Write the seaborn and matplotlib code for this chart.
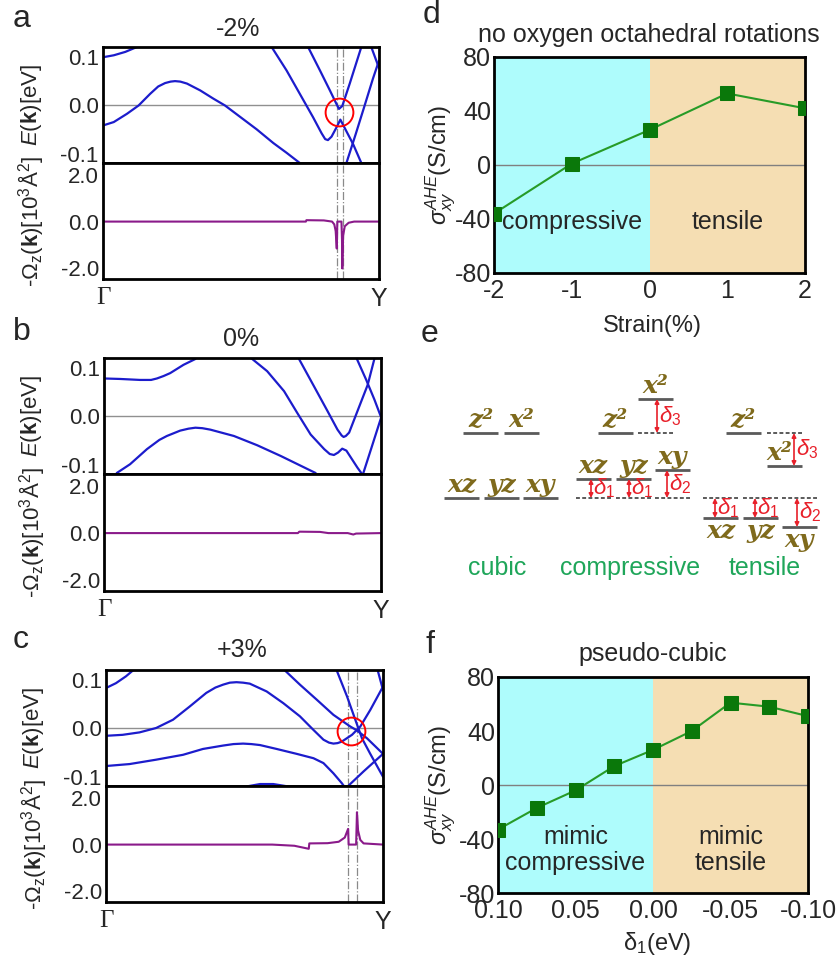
import matplotlib
matplotlib.use("Agg")
import matplotlib.pyplot as plt
import seaborn as sns

# ---------------- data ----------------
# k along Gamma -> Y is normalised to 0..1; energies in eV, Berry curvature in 10^3 A^2

# panel a : -2 %
A_BANDS = [
    ([0.0, 0.039, 0.081, 0.123], [0.099, 0.103, 0.110, 0.120]),
    ([0.0, 0.039, 0.087, 0.129, 0.171, 0.200, 0.225, 0.245, 0.261, 0.280, 0.304, 0.352, 0.400, 0.442,
      0.496, 0.557, 0.617, 0.665, 0.713],
     [-0.041, -0.034, -0.017, 0.0, 0.024, 0.039, 0.046, 0.049, 0.050, 0.049, 0.045, 0.031, 0.014, 0.0,
      -0.023, -0.049, -0.077, -0.097, -0.118]),
    ([0.611, 0.665, 0.713, 0.761, 0.792, 0.805, 0.815, 0.828, 0.846, 0.860, 0.882, 0.906, 0.936],
     [0.120, 0.072, 0.024, -0.024, -0.057, -0.069, -0.071, -0.064, -0.045, -0.029, -0.053, -0.079, -0.118]),
    ([0.743, 0.786, 0.822, 0.846, 0.855, 0.867, 0.894, 0.936],
     [0.120, 0.072, 0.031, 0.003, -0.007, -0.001, 0.045, 0.120]),
    ([0.882, 0.916, 0.948, 0.978, 1.0], [-0.118, -0.058, 0.0, 0.055, 0.092]),
    ([0.972, 1.0], [0.120, 0.077]),
]
A_BERRY_K = [0.0, 0.70, 0.735, 0.737, 0.80, 0.83, 0.838, 0.843, 0.847, 0.849, 0.864, 0.866, 0.867,
             0.870, 0.876, 0.89, 0.91, 1.0]
A_BERRY = [0.0, 0.0, 0.0, 0.06, 0.05, 0.0, -0.12, -0.4, -1.15, 0.0, 0.0, -0.8, -2.0,
           -0.6, -0.2, -0.05, 0.0, 0.0]
A_MARKS = [0.849, 0.868]
A_RING = (0.856, -0.013)

# panel b : 0 %
B_BANDS = [
    ([0.0, 0.058, 0.130, 0.170, 0.191, 0.215, 0.239, 0.287, 0.330],
     [0.078, 0.077, 0.075, 0.075, 0.078, 0.083, 0.089, 0.106, 0.118]),
    ([0.046, 0.094, 0.155, 0.200, 0.227, 0.275, 0.305, 0.330, 0.355, 0.384, 0.469, 0.553, 0.638, 0.710, 0.764],
     [-0.116, -0.098, -0.067, -0.048, -0.040, -0.029, -0.025, -0.023, -0.024, -0.027, -0.040, -0.059,
      -0.081, -0.101, -0.116]),
    ([0.535, 0.589, 0.650, 0.698, 0.746, 0.795, 0.815, 0.830, 0.845, 0.860, 0.875, 0.891, 0.915, 0.934],
     [0.118, 0.093, 0.052, 0.007, -0.037, -0.067, -0.077, -0.079, -0.074, -0.066, -0.070, -0.084, -0.105, -0.120]),
    ([0.704, 0.758, 0.807, 0.843, 0.858, 0.865, 0.873, 0.885, 0.915, 0.952, 0.976],
     [0.118, 0.062, 0.011, -0.027, -0.039, -0.042, -0.040, -0.033, 0.011, 0.065, 0.118]),
    ([0.913, 0.946, 0.976, 1.0], [0.118, 0.076, 0.035, -0.001]),
    ([0.934, 0.964, 1.0], [-0.120, -0.067, -0.003]),
]
B_BERRY_K = [0.0, 0.70, 0.705, 0.78, 0.81, 0.88, 0.90, 0.91, 1.0]
B_BERRY = [0.0, 0.0, 0.06, 0.05, 0.0, 0.0, -0.06, -0.02, 0.0]
B_MARKS = []
B_RING = None

# panel c : +3 %
C_BANDS = [
    ([0.0, 0.036, 0.072, 0.097], [0.083, 0.093, 0.107, 0.119]),
    ([0.0, 0.060, 0.121, 0.181, 0.242, 0.302, 0.362, 0.395, 0.423, 0.447, 0.471, 0.495, 0.519, 0.580,
      0.640, 0.700, 0.749, 0.785, 0.805, 0.821, 0.836, 0.851, 0.888, 0.918, 0.954, 1.0],
     [-0.015, -0.013, -0.008, 0.001, 0.018, 0.045, 0.073, 0.084, 0.090, 0.094, 0.095, 0.094, 0.092, 0.076,
      0.052, 0.025, -0.003, -0.023, -0.029, -0.031, -0.030, -0.027, -0.013, 0.004, 0.038, 0.086]),
    ([0.646, 0.700, 0.761, 0.821, 0.882, 0.906, 0.942, 1.0],
     [0.119, 0.090, 0.059, 0.028, 0.004, -0.004, -0.020, -0.052]),
    ([0.833, 0.870, 0.900, 0.924, 0.954, 1.0], [0.119, 0.066, 0.018, -0.020, -0.052, -0.099]),
    ([0.876, 0.930, 1.0], [-0.117, -0.088, -0.052]),
    ([0.981, 1.0], [0.119, 0.079]),
    ([0.507, 0.556, 0.604, 0.658], [-0.119, -0.114, -0.114, -0.119]),
    ([0.0, 0.085, 0.181, 0.278, 0.350, 0.423, 0.460, 0.495, 0.525, 0.556, 0.616, 0.688, 0.749, 0.785,
      0.821, 0.851, 0.860],
     [-0.077, -0.073, -0.064, -0.054, -0.042, -0.035, -0.032, -0.031, -0.032, -0.034, -0.042, -0.052,
      -0.061, -0.071, -0.092, -0.112, -0.119]),
]
C_BERRY_K = [0.0, 0.60, 0.68, 0.732, 0.734, 0.80, 0.84, 0.862, 0.874, 0.876, 0.903, 0.906, 0.910,
             0.918, 0.93, 1.0]
C_BERRY = [0.0, 0.0, -0.05, -0.18, 0.05, 0.06, 0.12, 0.3, 0.67, 0.0, 0.0, 1.38, 0.6,
           0.2, 0.05, 0.0]
C_MARKS = [0.875, 0.905]
C_RING = (0.886, -0.005)

# panel d : AHC vs strain, no octahedral rotations
STRAIN = [-2, -1, 0, 1, 2]
SIGMA_D = [-36, 1, 26, 53, 42]

# panel f : AHC vs delta_1, pseudo-cubic
DELTA1 = [0.1, 0.075, 0.05, 0.025, 0.0, -0.025, -0.05, -0.075, -0.1]
SIGMA_F = [-33, -17, -4, 14, 26, 40, 61, 58, 51]

# panel e : level scheme (x of left end, level height, reference height, splitting)
E_ORBITALS = ["z²", "x²", "xz", "yz", "xy",
              "z²", "x²", "xz", "yz", "xy",
              "z²", "x²", "xz", "yz", "xy"]
E_LEFT = [463, 504, 444, 484, 523,
          598, 638, 576, 616, 655,
          726, 767, 703, 743, 782]
E_LEVEL = [433, 433, 498, 498, 498,
           433, 399, 479, 479, 470,
           433, 466, 518, 518, 527]
E_REF = [None, None, None, None, None,
         None, 433, 498, 498, 498,
         None, 433, 498, 498, 498]
E_SPLIT = [None, None, None, None, None,
           None, "3", "1", "1", "2",
           None, "3", "1", "1", "2"]
E_ARROW_X = [None, None, None, None, None,
             None, 657, 591, 629, 667,
             None, 794, 715, 755, 797]
E_COLUMNS = ["cubic", "compressive", "tensile"]
E_COLUMN_X = [497, 630, 765]

# ---------------- style ----------------
sns.set_style("white")
plt.rcParams["font.family"] = ["Liberation Sans", "DejaVu Sans"]
plt.rcParams["mathtext.fontset"] = "custom"
plt.rcParams["mathtext.rm"] = "Liberation Sans"
plt.rcParams["mathtext.it"] = "Liberation Sans:italic"
plt.rcParams["mathtext.bf"] = "Liberation Sans:bold"
plt.rcParams["axes.unicode_minus"] = False

BLUE = "#1c1ccc"
PURPLE = "#8a1a8a"
CYAN = "#aefcfc"
WHEAT = "#f5deb3"
LINE_G = "#279b27"
MARK_G = "#0a780a"
OLIVE = "#7f6a1c"
RED = "#e8202a"
GREEN_T = "#1fa65a"

W, H = 839, 963
fig = plt.figure(figsize=(W / 100, H / 100), dpi=100)


def px_axes(l, t, r, b):
    return fig.add_axes([l / W, 1 - b / H, (r - l) / W, (b - t) / H])


def ftext(x, y, s, **kw):
    fig.text(x / W, 1 - y / H, s, **kw)


def frame(ax):
    for sp in ax.spines.values():
        sp.set_visible(True)
        sp.set_linewidth(2)
        sp.set_color("black")
    ax.tick_params(direction="in", length=4, width=1.5, labelsize=16, pad=3)


def band_panel(geom, bands, bk, bw, marks, ring):
    l, r, t, m, b = geom
    ax1 = px_axes(l, t, r, m)
    ax2 = px_axes(l, m, r, b)
    for u, e in bands:
        sns.lineplot(x=u, y=e, ax=ax1, sort=False, estimator=None, color=BLUE, lw=1.6)
    ax1.axhline(0, color="#909090", lw=1, zorder=0)
    sns.lineplot(x=bk, y=bw, ax=ax2, sort=False, estimator=None, color=PURPLE, lw=1.5)
    for k in marks:
        for ax in (ax1, ax2):
            ax.axvline(k, color="#8a8a8a", lw=0.9, ls="-.", zorder=0)
    if ring is not None:
        ax1.plot([ring[0]], [ring[1]], "o", ms=20, mfc="none", mec="red", mew=1.4)

    ax1.set_xlim(0, 1)
    ax1.set_ylim(-0.118, 0.12)
    ax1.set_xticks([])
    ax1.set_yticks([-0.1, 0.0, 0.1], ["-0.1", "0.0", "0.1"])
    ax1.set_ylabel(r"$E$($\mathbf{k}$)[eV]", fontsize=16)
    ax1.yaxis.set_label_coords(-0.215, 0.5)

    ax2.set_xlim(0, 1)
    ax2.set_ylim(-2.45, 2.5)
    ax2.set_yticks([-2.0, 0.0, 2.0], ["-2.0", "0.0", "2.0"])
    ax2.set_xticks([0, 1], ["Γ", "Y"])
    ax2.set_ylabel(r"-$\Omega_{\rm z}$($\mathbf{k}$)[10$^3$Å$^2$]", fontsize=16)
    ax2.yaxis.set_label_coords(-0.205, 0.5)
    for ax in (ax1, ax2):
        frame(ax)
    ax2.tick_params(axis="x", length=0, labelsize=18, pad=6)
    ax2.get_xticklabels()[0].set_fontfamily("Liberation Serif")


band_panel((103, 379, 47, 163, 279), A_BANDS, A_BERRY_K, A_BERRY, A_MARKS, A_RING)
band_panel((104, 381, 358, 474, 591), B_BANDS, B_BERRY_K, B_BERRY, B_MARKS, B_RING)
band_panel((106, 383, 670, 786, 902), C_BANDS, C_BERRY_K, C_BERRY, C_MARKS, C_RING)

for x, y, s in [(238, 36, "-2%"), (241, 346, "0%"), (242, 657, "+3%")]:
    ftext(x, y, s, ha="center", va="baseline", fontsize=18)


def ahc_panel(ax, x, y, lo, hi):
    ax.axvspan(lo, 0, color=CYAN, lw=0, zorder=0)
    ax.axvspan(0, hi, color=WHEAT, lw=0, zorder=0)
    ax.axhline(0, color="#808080", lw=1, zorder=1)
    sns.lineplot(x=x, y=y, ax=ax, sort=False, estimator=None, color=LINE_G, lw=1.5,
                 marker="s", markersize=10, markerfacecolor=MARK_G, markeredgecolor=MARK_G, zorder=3)
    ax.set_xlim(lo, hi)
    ax.set_ylim(-80, 80)
    ax.set_yticks([-80, -40, 0, 40, 80], ["-80", "-40", "0", "40", "80"])
    ax.set_xlabel("")
    ax.set_ylabel("")
    frame(ax)
    ax.tick_params(labelsize=18, pad=2)
    ax.tick_params(axis="x", pad=4)


# panel d
ax_d = px_axes(494, 57, 805, 273)
ahc_panel(ax_d, STRAIN, SIGMA_D, -2, 2)
ax_d.set_xticks(STRAIN, ["-2", "-1", "0", "1", "2"])
ax_d.text(-1, -42, "compressive", ha="center", va="center", fontsize=18)
ax_d.text(1, -42, "tensile", ha="center", va="center", fontsize=18)
ftext(649, 42, "no oxygen octahedral rotations", ha="center", va="baseline", fontsize=18)
ftext(652, 332, "Strain(%)", ha="center", va="baseline", fontsize=17)
ftext(441, 165, r"$\sigma_{xy}^{AHE}$(S/cm)", ha="center", va="center", rotation=90, fontsize=17)

# panel f
ax_f = px_axes(498, 677, 808, 893)
ahc_panel(ax_f, DELTA1, SIGMA_F, 0.1, -0.1)
ax_f.set_xticks([0.1, 0.05, 0.0, -0.05, -0.1], ["0.10", "0.05", "0.00", "-0.05", "-0.10"])
ax_f.text(0.05, -48, "mimic\ncompressive", ha="center", va="center", fontsize=18, linespacing=1.1)
ax_f.text(-0.05, -48, "mimic\ntensile", ha="center", va="center", fontsize=18, linespacing=1.1)
ftext(653, 661, "pseudo-cubic", ha="center", va="baseline", fontsize=18)
ftext(657, 950, "δ$_1$(eV)", ha="center", va="baseline", fontsize=17)
ftext(441, 785, r"$\sigma_{xy}^{AHE}$(S/cm)", ha="center", va="center", rotation=90, fontsize=17)

# panel e : crystal-field level scheme
ax_e = px_axes(430, 360, 839, 600)
ax_e.set_xlim(430, 839)
ax_e.set_ylim(600, 360)
ax_e.axis("off")
LW = 35
for name, x0, y, yr, sp, xa in zip(E_ORBITALS, E_LEFT, E_LEVEL, E_REF, E_SPLIT, E_ARROW_X):
    ax_e.plot([x0, x0 + LW], [y, y], color="#5a5a5a", lw=2, solid_capstyle="butt")
    below = yr is not None and y > yr and name != "x²"
    if yr is not None:
        ax_e.plot([x0, x0 + LW], [yr, yr], color="#5a5a5a", lw=1.4, ls=(0, (2, 1.2)))
        ax_e.annotate("", xy=(xa, y), xytext=(xa, yr),
                      arrowprops=dict(arrowstyle="<|-|>", color=RED, lw=1.2,
                                      mutation_scale=6, shrinkA=0, shrinkB=0))
        ax_e.text(xa + 2, (y + yr) / 2, r"$\delta_{%s}$" % sp, color=RED, fontsize=16,
                  ha="left", va="center")
    if below:
        ax_e.text(x0 + LW / 2, y + 1, name, ha="center", va="top", fontsize=18, color=OLIVE,
                  family="DejaVu Serif", weight="bold", style="italic")
    else:
        ax_e.text(x0 + LW / 2 - (5 if name == "x²" and yr is not None and y > yr else 0), y - 1, name,
                  ha="center", va="bottom", fontsize=18, color=OLIVE,
                  family="DejaVu Serif", weight="bold", style="italic")
for s, x in zip(E_COLUMNS, E_COLUMN_X):
    ax_e.text(x, 568, s, ha="center", va="center", fontsize=18, color=GREEN_T)

# panel letters
for x, y, s in [(13, 27, "a"), (13, 340, "b"), (13, 648, "c"),
                (423, 23, "d"), (421, 342, "e"), (425, 653, "f")]:
    ftext(x, y, s, ha="left", va="baseline", fontsize=23)

fig.savefig("out.png", dpi=100)
